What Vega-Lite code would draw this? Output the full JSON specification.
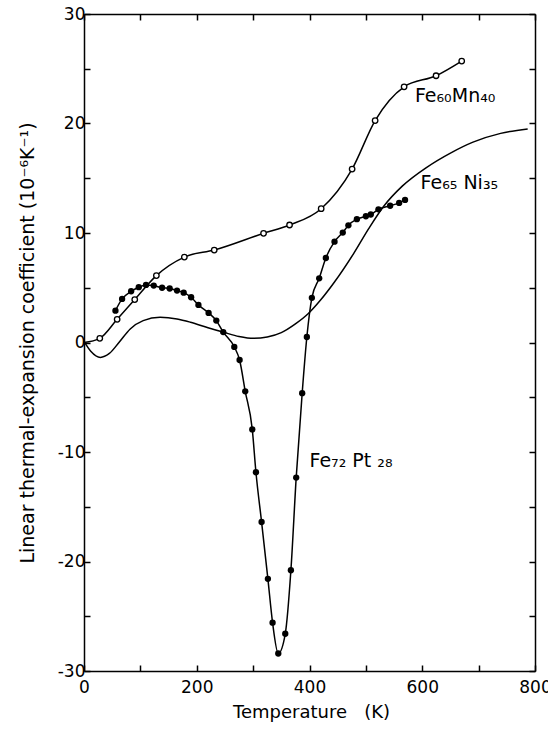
{
  "$schema": "https://vega.github.io/schema/vega-lite/v6.json",
  "width": 451,
  "height": 657,
  "autosize": "none",
  "padding": {"left": 84, "top": 14, "right": 13, "bottom": 60},
  "background": "white",
  "config": {"view": {"stroke": null}, "font": "DejaVu Sans"},
  "datasets": {
    "curves": [
      {"alloy": "Ni", "T": 0, "v": 0.1},
      {"alloy": "Ni", "T": 12, "v": -0.8},
      {"alloy": "Ni", "T": 29, "v": -1.36},
      {"alloy": "Ni", "T": 45, "v": -1.0},
      {"alloy": "Ni", "T": 62, "v": 0.0},
      {"alloy": "Ni", "T": 82, "v": 1.24},
      {"alloy": "Ni", "T": 105, "v": 2.0},
      {"alloy": "Ni", "T": 135, "v": 2.3},
      {"alloy": "Ni", "T": 165, "v": 2.15},
      {"alloy": "Ni", "T": 189, "v": 1.85},
      {"alloy": "Ni", "T": 220, "v": 1.35},
      {"alloy": "Ni", "T": 248, "v": 0.93},
      {"alloy": "Ni", "T": 275, "v": 0.55},
      {"alloy": "Ni", "T": 301, "v": 0.38},
      {"alloy": "Ni", "T": 325, "v": 0.5},
      {"alloy": "Ni", "T": 350, "v": 0.9},
      {"alloy": "Ni", "T": 375, "v": 1.7},
      {"alloy": "Ni", "T": 398, "v": 2.65},
      {"alloy": "Ni", "T": 420, "v": 3.9},
      {"alloy": "Ni", "T": 444, "v": 5.5},
      {"alloy": "Ni", "T": 478, "v": 8.1},
      {"alloy": "Ni", "T": 505, "v": 10.4},
      {"alloy": "Ni", "T": 531, "v": 12.4},
      {"alloy": "Ni", "T": 565, "v": 14.3},
      {"alloy": "Ni", "T": 608, "v": 16.0},
      {"alloy": "Ni", "T": 650, "v": 17.3},
      {"alloy": "Ni", "T": 690, "v": 18.3},
      {"alloy": "Ni", "T": 739, "v": 19.1},
      {"alloy": "Ni", "T": 787, "v": 19.5},
      {"alloy": "Mn", "T": 0, "v": 0.0},
      {"alloy": "Mn", "T": 28, "v": 0.38},
      {"alloy": "Mn", "T": 58.8, "v": 2.12},
      {"alloy": "Mn", "T": 90, "v": 3.92},
      {"alloy": "Mn", "T": 128.4, "v": 6.11},
      {"alloy": "Mn", "T": 178, "v": 7.8},
      {"alloy": "Mn", "T": 231, "v": 8.44},
      {"alloy": "Mn", "T": 318.5, "v": 9.97},
      {"alloy": "Mn", "T": 364.6, "v": 10.73},
      {"alloy": "Mn", "T": 420.7, "v": 12.22},
      {"alloy": "Mn", "T": 475.6, "v": 15.84},
      {"alloy": "Mn", "T": 516.4, "v": 20.27},
      {"alloy": "Mn", "T": 567.8, "v": 23.35},
      {"alloy": "Mn", "T": 624.5, "v": 24.36},
      {"alloy": "Mn", "T": 670, "v": 25.7}
    ],
    "points": [
      {"alloy": "Mn", "T": 28, "v": 0.38},
      {"alloy": "Mn", "T": 58.8, "v": 2.12},
      {"alloy": "Mn", "T": 90, "v": 3.92},
      {"alloy": "Mn", "T": 128.4, "v": 6.11},
      {"alloy": "Mn", "T": 178, "v": 7.8},
      {"alloy": "Mn", "T": 231, "v": 8.44},
      {"alloy": "Mn", "T": 318.5, "v": 9.97},
      {"alloy": "Mn", "T": 364.6, "v": 10.73},
      {"alloy": "Mn", "T": 420.7, "v": 12.22},
      {"alloy": "Mn", "T": 475.6, "v": 15.84},
      {"alloy": "Mn", "T": 516.4, "v": 20.27},
      {"alloy": "Mn", "T": 567.8, "v": 23.35},
      {"alloy": "Mn", "T": 624.5, "v": 24.36},
      {"alloy": "Mn", "T": 670, "v": 25.7},
      {"alloy": "Pt", "T": 55.8, "v": 2.91},
      {"alloy": "Pt", "T": 67.6, "v": 3.98},
      {"alloy": "Pt", "T": 83.6, "v": 4.68},
      {"alloy": "Pt", "T": 97.1, "v": 5.05},
      {"alloy": "Pt", "T": 110, "v": 5.26},
      {"alloy": "Pt", "T": 123.7, "v": 5.2},
      {"alloy": "Pt", "T": 138.5, "v": 5.0},
      {"alloy": "Pt", "T": 152, "v": 4.93},
      {"alloy": "Pt", "T": 165, "v": 4.74},
      {"alloy": "Pt", "T": 176.8, "v": 4.55},
      {"alloy": "Pt", "T": 190, "v": 4.13},
      {"alloy": "Pt", "T": 203, "v": 3.43},
      {"alloy": "Pt", "T": 221, "v": 2.7},
      {"alloy": "Pt", "T": 234.7, "v": 2.0},
      {"alloy": "Pt", "T": 247, "v": 0.95},
      {"alloy": "Pt", "T": 266.6, "v": -0.4},
      {"alloy": "Pt", "T": 276, "v": -1.6},
      {"alloy": "Pt", "T": 286, "v": -4.46},
      {"alloy": "Pt", "T": 298.5, "v": -7.94},
      {"alloy": "Pt", "T": 305, "v": -11.85},
      {"alloy": "Pt", "T": 315, "v": -16.39},
      {"alloy": "Pt", "T": 326.2, "v": -21.58},
      {"alloy": "Pt", "T": 334.5, "v": -25.59},
      {"alloy": "Pt", "T": 344.6, "v": -28.4},
      {"alloy": "Pt", "T": 357, "v": -26.6},
      {"alloy": "Pt", "T": 367, "v": -20.8},
      {"alloy": "Pt", "T": 376.4, "v": -12.34},
      {"alloy": "Pt", "T": 387, "v": -4.63},
      {"alloy": "Pt", "T": 395.3, "v": 0.5},
      {"alloy": "Pt", "T": 404.2, "v": 4.08},
      {"alloy": "Pt", "T": 417.2, "v": 5.86},
      {"alloy": "Pt", "T": 429, "v": 7.72},
      {"alloy": "Pt", "T": 444.4, "v": 9.21},
      {"alloy": "Pt", "T": 459, "v": 10.04},
      {"alloy": "Pt", "T": 469, "v": 10.7},
      {"alloy": "Pt", "T": 484, "v": 11.26},
      {"alloy": "Pt", "T": 500, "v": 11.53},
      {"alloy": "Pt", "T": 508.7, "v": 11.69},
      {"alloy": "Pt", "T": 522.3, "v": 12.16},
      {"alloy": "Pt", "T": 543, "v": 12.49},
      {"alloy": "Pt", "T": 559, "v": 12.75},
      {"alloy": "Pt", "T": 569.5, "v": 13.02}
    ],
    "labels": [
      {"label": "Fe₆₀Mn₄₀", "T": 587, "v": 22.0},
      {"label": "Fe₆₅ Ni₃₅", "T": 597, "v": 14.0},
      {"label": "Fe₇₂ Pt ₂₈", "T": 400, "v": -11.4}
    ]
  },
  "layer": [
    {
      "data": {"name": "curves"},
      "transform": [{"filter": "datum.alloy === 'Ni'"}],
      "mark": {"type": "line", "color": "black", "strokeWidth": 1.5, "interpolate": "monotone"},
      "encoding": {
        "x": {
          "field": "T", "type": "quantitative",
          "scale": {"domain": [0, 800], "nice": false, "zero": false},
          "axis": {
            "orient": "bottom",
            "values": [0, 100, 200, 300, 400, 500, 600, 700, 800],
            "labelExpr": "datum.value % 200 === 0 ? '' + datum.value : ''",
            "grid": false,
            "tickSize": -6, "tickColor": "black", "tickWidth": 1.5,
            "domainColor": "black", "domainWidth": 1.5,
            "labelFontSize": 17, "labelColor": "black", "labelPadding": 14,
            "labelFlush": false, "labelOverlap": false, "labelBound": false,
            "title": "Temperature\u00a0\u00a0\u00a0(K)",
            "titleFontSize": 18, "titleFontWeight": "normal", "titleColor": "black",
            "titleX": 227, "titleY": 46, "titleBaseline": "alphabetic", "titleAlign": "center"
          }
        },
        "y": {
          "field": "v", "type": "quantitative",
          "scale": {"domain": [-30, 30], "nice": false, "zero": false},
          "axis": {
            "orient": "left",
            "values": [-30, -25, -20, -15, -10, -5, 0, 5, 10, 15, 20, 25, 30],
            "labelExpr": "datum.value % 10 === 0 ? '' + datum.value : ''",
            "grid": false,
            "tickSize": -6, "tickColor": "black", "tickWidth": 1.5,
            "domainColor": "black", "domainWidth": 1.5,
            "labelFontSize": 17, "labelColor": "black", "labelPadding": 5,
            "labelFlush": false, "labelOverlap": false, "labelBound": false,
            "title": "Linear thermal-expansion coefficient (10⁻⁶K⁻¹)",
            "titleFontSize": 19, "titleFontWeight": "normal", "titleColor": "black",
            "titleAngle": -90, "titleX": -51, "titleY": 328.5,
            "titleBaseline": "alphabetic", "titleAlign": "center"
          }
        }
      }
    },
    {
      "data": {"name": "curves"},
      "transform": [{"filter": "datum.alloy === 'Mn'"}],
      "mark": {"type": "line", "color": "black", "strokeWidth": 1.5, "interpolate": "monotone"},
      "encoding": {
        "x": {"field": "T", "type": "quantitative", "scale": {"domain": [0, 800], "nice": false, "zero": false}, "axis": null},
        "y": {"field": "v", "type": "quantitative", "scale": {"domain": [-30, 30], "nice": false, "zero": false}, "axis": null}
      }
    },
    {
      "data": {"name": "points"},
      "transform": [{"filter": "datum.alloy === 'Pt'"}],
      "mark": {"type": "line", "color": "black", "strokeWidth": 1.5, "interpolate": "monotone"},
      "encoding": {
        "x": {"field": "T", "type": "quantitative", "scale": {"domain": [0, 800], "nice": false, "zero": false}, "axis": null},
        "y": {"field": "v", "type": "quantitative", "scale": {"domain": [-30, 30], "nice": false, "zero": false}, "axis": null}
      }
    },
    {
      "data": {"name": "points"},
      "transform": [{"filter": "datum.alloy === 'Mn'"}],
      "mark": {"type": "point", "shape": "circle", "size": 30, "fill": "white", "stroke": "black", "strokeWidth": 1.3, "opacity": 1, "filled": true},
      "encoding": {
        "x": {"field": "T", "type": "quantitative", "scale": {"domain": [0, 800], "nice": false, "zero": false}, "axis": null},
        "y": {"field": "v", "type": "quantitative", "scale": {"domain": [-30, 30], "nice": false, "zero": false}, "axis": null}
      }
    },
    {
      "data": {"name": "points"},
      "transform": [{"filter": "datum.alloy === 'Pt'"}],
      "mark": {"type": "circle", "size": 40, "color": "black", "opacity": 1},
      "encoding": {
        "x": {"field": "T", "type": "quantitative", "scale": {"domain": [0, 800], "nice": false, "zero": false}, "axis": null},
        "y": {"field": "v", "type": "quantitative", "scale": {"domain": [-30, 30], "nice": false, "zero": false}, "axis": null}
      }
    },
    {
      "data": {"name": "labels"},
      "mark": {"type": "text", "align": "left", "baseline": "alphabetic", "fontSize": 19, "color": "black", "font": "DejaVu Sans"},
      "encoding": {
        "x": {
          "field": "T", "type": "quantitative",
          "scale": {"domain": [0, 800], "nice": false, "zero": false},
          "axis": {
            "orient": "top", "values": [0, 100, 200, 300, 400, 500, 600, 700, 800],
            "labels": false, "grid": false, "title": null,
            "tickSize": -6, "tickColor": "black", "tickWidth": 1.5,
            "domainColor": "black", "domainWidth": 1.5
          }
        },
        "y": {
          "field": "v", "type": "quantitative",
          "scale": {"domain": [-30, 30], "nice": false, "zero": false},
          "axis": {
            "orient": "right", "values": [-30, -25, -20, -15, -10, -5, 0, 5, 10, 15, 20, 25, 30],
            "labels": false, "grid": false, "title": null,
            "tickSize": -6, "tickColor": "black", "tickWidth": 1.5,
            "domainColor": "black", "domainWidth": 1.5
          }
        },
        "text": {"field": "label", "type": "nominal"}
      }
    }
  ],
  "resolve": {"axis": {"x": "independent", "y": "independent"}}
}
